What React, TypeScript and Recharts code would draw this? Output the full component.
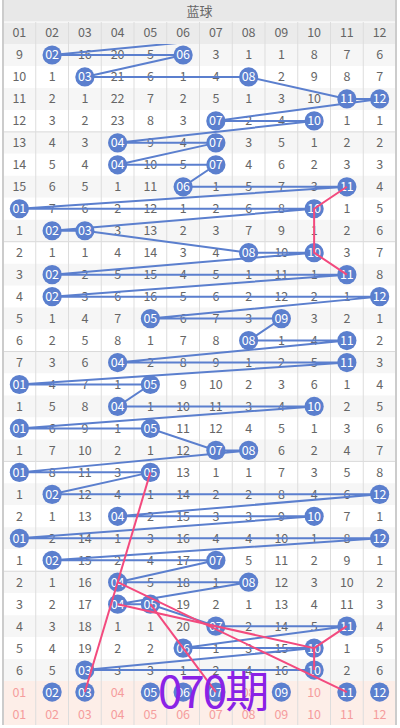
import {
  ComposedChart, XAxis, YAxis, Line, Scatter, ReferenceArea, ReferenceLine,
} from 'recharts';

const COLUMNS = ['01', '02', '03', '04', '05', '06', '07', '08', '09', '10', '11', '12'];

// omission count per draw and number, 0 = that blue ball was drawn
const OMISSION = [
  [9, 0, 16, 20, 5, 0, 3, 1, 1, 8, 7, 6],
  [10, 1, 0, 21, 6, 1, 4, 0, 2, 9, 8, 7],
  [11, 2, 1, 22, 7, 2, 5, 1, 3, 10, 0, 0],
  [12, 3, 2, 23, 8, 3, 0, 2, 4, 0, 1, 1],
  [13, 4, 3, 0, 9, 4, 0, 3, 5, 1, 2, 2],
  [14, 5, 4, 0, 10, 5, 0, 4, 6, 2, 3, 3],
  [15, 6, 5, 1, 11, 0, 1, 5, 7, 3, 0, 4],
  [0, 7, 6, 2, 12, 1, 2, 6, 8, 0, 1, 5],
  [1, 0, 0, 3, 13, 2, 3, 7, 9, 1, 2, 6],
  [2, 1, 1, 4, 14, 3, 4, 0, 10, 0, 3, 7],
  [3, 0, 2, 5, 15, 4, 5, 1, 11, 1, 0, 8],
  [4, 0, 3, 6, 16, 5, 6, 2, 12, 2, 1, 0],
  [5, 1, 4, 7, 0, 6, 7, 3, 0, 3, 2, 1],
  [6, 2, 5, 8, 1, 7, 8, 0, 1, 4, 0, 2],
  [7, 3, 6, 0, 2, 8, 9, 1, 2, 5, 0, 3],
  [0, 4, 7, 1, 0, 9, 10, 2, 3, 6, 1, 4],
  [1, 5, 8, 0, 1, 10, 11, 3, 4, 0, 2, 5],
  [0, 6, 9, 1, 0, 11, 12, 4, 5, 1, 3, 6],
  [1, 7, 10, 2, 1, 12, 0, 0, 6, 2, 4, 7],
  [0, 8, 11, 3, 0, 13, 1, 1, 7, 3, 5, 8],
  [1, 0, 12, 4, 1, 14, 2, 2, 8, 4, 6, 0],
  [2, 1, 13, 0, 2, 15, 3, 3, 9, 0, 7, 1],
  [0, 2, 14, 1, 3, 16, 4, 4, 10, 1, 8, 0],
  [1, 0, 15, 2, 4, 17, 0, 5, 11, 2, 9, 1],
  [2, 1, 16, 0, 5, 18, 1, 0, 12, 3, 10, 2],
  [3, 2, 17, 0, 0, 19, 2, 1, 13, 4, 11, 3],
  [4, 3, 18, 1, 1, 20, 0, 2, 14, 5, 0, 4],
  [5, 4, 19, 2, 2, 0, 1, 3, 15, 0, 1, 5],
  [6, 5, 0, 3, 3, 1, 2, 4, 16, 0, 2, 6],
];

// draw just above the visible table (line enters from there)
const PREV_DRAW = [8, 9];
// numbers picked in the row under the draws
const PICKS = [2, 3, 5, 6, 7, 9, 11, 12];
// hand drawn pink lines, [number, row]
const PINK_PATHS = [
  [[11, 7], [10, 8], [10, 10], [11, 11]],
  [[5, 20], [3, 30]],
  [[4, 25], [11, 30]],
  [[4, 26], [10, 28], [11, 27]],
  [[10, 28], [10, 29]],
  [[5, 26], [7, 30]],
];
const ISSUE = '070期';

const BLUE = '#5b7fce';
const PINK = '#f34a7e';
const GRAY_TEXT = '#666';
const PINK_TEXT = '#f59d9d';
const FONT = '"Noto Sans CJK SC", "Noto Sans", sans-serif';

const DRAWS = OMISSION.length; // 29
const PICK_ROW = DRAWS + 1;
const LABEL_ROW = DRAWS + 2;

const cells: { x: number; y: number; label: string; color: string }[] = [];
const balls: { x: number; y: number; label: string }[] = [];
const blueLine: { x: number; y: number }[] = [{ x: Math.max(...PREV_DRAW), y: 0 }];

OMISSION.forEach((row, i) => {
  const hits: number[] = [];
  row.forEach((v, c) => {
    if (v === 0) {
      hits.push(c + 1);
      balls.push({ x: c + 1, y: i + 1, label: COLUMNS[c] });
    } else {
      cells.push({ x: c + 1, y: i + 1, label: String(v), color: GRAY_TEXT });
    }
  });
  hits.sort((a, b) => a - b).forEach((h) => blueLine.push({ x: h, y: i + 1 }));
});

COLUMNS.forEach((col, c) => {
  if (PICKS.includes(c + 1)) balls.push({ x: c + 1, y: PICK_ROW, label: col });
  else cells.push({ x: c + 1, y: PICK_ROW, label: col, color: PINK_TEXT });
  cells.push({ x: c + 1, y: LABEL_ROW, label: col, color: PINK_TEXT });
});

const rows = Array.from({ length: LABEL_ROW }, (_, i) => i + 1);

const rowFill = (r: number) => {
  if (r > DRAWS) return '#fdeee8';
  return r % 2 === 1 ? '#f6f6f6' : '#ffffff';
};

const CellText = (props: any) => {
  const { cx, cy, payload } = props;
  return (
    <text x={cx} y={cy} dy="0.36em" textAnchor="middle" fontSize={12.5} fill={payload.color}>
      {payload.label}
    </text>
  );
};

const Ball = (props: any) => {
  const { cx, cy, payload } = props;
  return (
    <g>
      <circle cx={cx} cy={cy} r={9.6} fill={BLUE} />
      <text x={cx} y={cy} dy="0.36em" textAnchor="middle" fontSize={12.5} fill="#fff">
        {payload.label}
      </text>
    </g>
  );
};

export default function App() {
  return (
    <div style={{ width: 400, height: 728, fontFamily: FONT, background: '#fff' }}>
      <style>{'body{margin:0}'}</style>
      <ComposedChart width={400} height={728} margin={{ top: 44, right: 4, bottom: 3, left: 3 }}>
        <XAxis type="number" dataKey="x" domain={[0.5, 12.5]} hide allowDataOverflow />
        <YAxis type="number" dataKey="y" domain={[0.5, LABEL_ROW + 0.5]} reversed hide allowDataOverflow />

        {/* header bands */}
        <ReferenceArea
          x1={0.5} x2={12.5} y1={-1.5} y2={-0.5} fill="#e8e8e8" fillOpacity={1} ifOverflow="visible" zIndex={-300}
          label={{ value: '蓝球', position: 'center', fill: GRAY_TEXT, fontSize: 13 }}
        />
        <ReferenceArea x1={0.5} x2={12.5} y1={-0.5} y2={0.5} fill="#ebebeb" fillOpacity={1} ifOverflow="visible" zIndex={-300} />
        {COLUMNS.map((col, c) => (
          <ReferenceArea
            key={`h-${col}`} x1={c + 0.5} x2={c + 1.5} y1={-0.5} y2={0.5} fillOpacity={0} ifOverflow="visible" zIndex={-290}
            label={{ value: col, position: 'center', fill: GRAY_TEXT, fontSize: 12.5 }}
          />
        ))}
        {rows.map((r) => (
          <ReferenceArea
            key={`row-${r}`} x1={0.5} x2={12.5} y1={r - 0.5} y2={r + 0.5}
            fill={rowFill(r)} fillOpacity={1} ifOverflow="visible" zIndex={-300}
          />
        ))}

        {/* grid */}
        <ReferenceLine segment={[{ x: 0.5, y: -0.5 }, { x: 12.5, y: -0.5 }]} stroke="#fff" ifOverflow="visible" zIndex={-250} />
        {[4.5, 9.5, 14.5, 19.5, 24.5].map((y) => (
          <ReferenceLine key={`hl-${y}`} segment={[{ x: 0.5, y }, { x: 12.5, y }]} stroke="#d9d9d9" ifOverflow="visible" zIndex={-250} />
        ))}
        {COLUMNS.slice(1).map((col, c) => (
          <ReferenceLine
            key={`vl-${col}`} segment={[{ x: c + 1.5, y: -0.5 }, { x: c + 1.5, y: LABEL_ROW + 0.5 }]}
            stroke="#dddddd" ifOverflow="visible" zIndex={-250}
          />
        ))}
        <ReferenceLine segment={[{ x: 0.5, y: -1.5 }, { x: 0.5, y: LABEL_ROW + 0.5 }]} stroke="#cccccc" strokeWidth={2} ifOverflow="visible" zIndex={-250} />
        <ReferenceLine segment={[{ x: 12.5, y: -1.5 }, { x: 12.5, y: LABEL_ROW + 0.5 }]} stroke="#cccccc" strokeWidth={2} ifOverflow="visible" zIndex={-250} />

        <Scatter data={cells} shape={CellText} isAnimationActive={false} zIndex={100} />
        <Line
          data={blueLine} dataKey="y" type="linear" stroke={BLUE} strokeWidth={2}
          dot={false} activeDot={false} isAnimationActive={false} zIndex={200}
        />
        <Scatter data={balls} shape={Ball} isAnimationActive={false} zIndex={300} />
        {PINK_PATHS.map((path, i) => (
          <Line
            key={`pink-${i}`} data={path.map(([x, y]) => ({ x, y }))} dataKey="y" type="linear"
            stroke={PINK} strokeWidth={2} dot={false} activeDot={false} isAnimationActive={false} zIndex={400}
          />
        ))}
        <ReferenceArea
          x1={5.4} x2={8.4} y1={PICK_ROW - 0.5} y2={PICK_ROW + 0.5} fillOpacity={0} ifOverflow="visible" zIndex={500}
          label={{ value: ISSUE, position: 'center', fill: '#8a22e6', fontSize: 44, letterSpacing: -2 }}
        />
      </ComposedChart>
    </div>
  );
}
